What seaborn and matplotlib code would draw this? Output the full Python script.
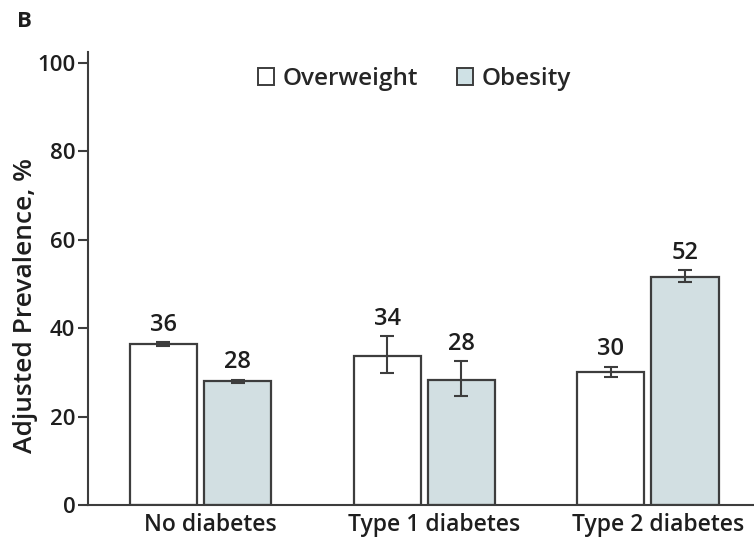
import matplotlib
matplotlib.use("Agg")
import matplotlib.pyplot as plt
import matplotlib.transforms as mtransforms
from matplotlib.patches import Patch
import seaborn as sns
import numpy as np
import pandas as pd

# values (adjusted prevalence, %)
groups = ["No diabetes", "Type 1 diabetes", "Type 2 diabetes"]
series = ["Overweight", "Obesity"]
overweight = [36.4, 33.7, 30.1]
overweight_lo = [36.0, 29.8, 29.0]
overweight_hi = [36.8, 38.2, 31.3]
obesity = [28.0, 28.4, 51.7]
obesity_lo = [27.6, 24.8, 50.4]
obesity_hi = [28.4, 32.5, 53.1]
labels_ow = ["36", "34", "30"]
labels_ob = ["28", "28", "52"]

df = pd.DataFrame({
    "group": groups * 2,
    "series": ["Overweight"] * 3 + ["Obesity"] * 3,
    "value": overweight + obesity,
})

sns.set_style("white")
plt.rcParams["font.family"] = ["Open Sans", "DejaVu Sans"]

edge = "#3d3d3d"
txt = "#1e1e1e"
wt = "semibold"
fill = {"Overweight": "#ffffff", "Obesity": "#cfe1e5"}

fig = plt.figure(figsize=(7.54, 5.42), dpi=100)
ax = fig.add_axes([0.1167, 0.068, 0.8833, 0.836])

sns.barplot(data=df, x="group", y="value", hue="series", hue_order=series,
            order=groups, palette=fill, width=0.662, gap=0.094,
            errorbar=None, edgecolor=edge, linewidth=1.6, legend=False, ax=ax)

los = [overweight_lo, obesity_lo]
his = [overweight_hi, obesity_hi]
vals = [overweight, obesity]
labs = [labels_ow, labels_ob]
for cont, lo, hi, v, lab in zip(ax.containers, los, his, vals, labs):
    xs = [b.get_x() + b.get_width() / 2 for b in cont]
    v = np.array(v)
    yerr = [v - np.array(lo), np.array(hi) - v]
    ax.errorbar(xs, v, yerr=yerr, fmt="none", ecolor=edge, elinewidth=1.5,
                capsize=5, capthick=1.5, zorder=5)
    for x, h, t in zip(xs, hi, lab):
        ax.annotate(t, (x, h), xytext=(0, 4), textcoords="offset points",
                    ha="center", va="bottom", fontsize=17, fontweight=wt,
                    color=txt)

ax.set_ylim(0, 102.5)
ax.set_xlim(-0.503, 2.474)
ax.set_yticks([0, 20, 40, 60, 80, 100])
ax.set_xlabel("")
ax.set_ylabel("Adjusted Prevalence, %", fontsize=19, fontweight=wt,
              color=txt)
ax.yaxis.set_label_coords(-0.075, 0.44)
sns.despine(ax=ax, top=True, right=True)
for s in ["left", "bottom"]:
    ax.spines[s].set_color(edge)
    ax.spines[s].set_linewidth(1.5)
ax.tick_params(axis="y", length=7, width=1.5, color=edge, labelsize=16,
               pad=2, left=True)
ax.tick_params(axis="x", length=0, labelsize=16.5, pad=6)
shift = mtransforms.ScaledTranslation(0.1, 0, fig.dpi_scale_trans)
for t in ax.get_xticklabels():
    t.set_transform(t.get_transform() + shift)
for t in ax.get_xticklabels() + ax.get_yticklabels():
    t.set_fontweight(wt)
    t.set_color(txt)

handles = [Patch(facecolor=fill[s], edgecolor=edge, linewidth=1.4) for s in series]
ax.legend(handles, series, loc="upper center", bbox_to_anchor=(0.49, 1.015),
          ncol=2, frameon=False, handlelength=0.65,
          handleheight=0.65, handletextpad=0.35, columnspacing=1.6,
          prop={"weight": wt, "size": 17.5})

fig.text(0.022, 0.95, "B", fontsize=16, fontweight="bold", color=txt)

fig.savefig("out.png", dpi=100)
